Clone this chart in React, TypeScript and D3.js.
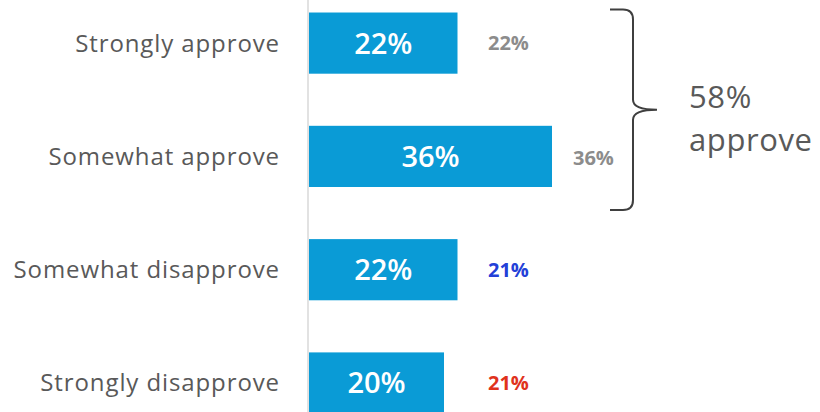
import React from "react";
import * as d3 from "d3";

const categories = ["Strongly approve", "Somewhat approve", "Somewhat disapprove", "Strongly disapprove"];
const values = [22, 36, 22, 20];
const barLabels = ["22%", "36%", "22%", "20%"];
const compareLabels = ["22%", "36%", "21%", "21%"];
const compareColors = ["#8c8c8c", "#8c8c8c", "#2340d8", "#e0321c"];
const bracketLines = ["58%", "approve"];

const W = 820;
const H = 412;
const FONT = "'Open Sans', 'Noto Sans', sans-serif";

export default function App() {
  const x = d3.scaleLinear().domain([0, 36]).range([309, 552]);
  const y = d3.scaleBand<string>().domain(categories).range([-39.6, 465.7]).padding(0.46);
  const bw = y.bandwidth();

  const top = (y(categories[0]) ?? 0) - 3;
  const bot = (y(categories[1]) ?? 0) + bw + 23;
  const mid = (top + bot) / 2;
  const bx = 633;
  const r = 10;
  const bracket = [
    `M ${bx - 23} ${top}`,
    `L ${bx - r} ${top}`,
    `Q ${bx} ${top} ${bx} ${top + r}`,
    `L ${bx} ${mid - r}`,
    `Q ${bx} ${mid} ${bx + 24} ${mid}`,
    `Q ${bx} ${mid} ${bx} ${mid + r}`,
    `L ${bx} ${bot - r}`,
    `Q ${bx} ${bot} ${bx - r} ${bot}`,
    `L ${bx - 23} ${bot}`,
  ].join(" ");

  return (
    <svg width={W} height={H} style={{ position: "absolute", left: 0, top: 0, display: "block", background: "#fff" }}>
      <line x1={x(0) - 1} x2={x(0) - 1} y1={0} y2={H} stroke="#d9d9d9" strokeWidth={1.5} />
      {categories.map((c, i) => {
        const yc = (y(c) ?? 0) + bw / 2;
        return (
          <g key={c}>
            <text
              x={280}
              y={yc}
              dy="0.35em"
              textAnchor="end"
              fontFamily={FONT}
              fontSize={24}
              letterSpacing={0.9}
              fill="#595959"
            >
              {c}
            </text>
            <rect x={x(0)} y={y(c)} width={x(values[i]) - x(0)} height={bw} fill="#0a9bd6" />
            <text
              x={(x(0) + x(values[i])) / 2}
              y={yc}
              dy="0.36em"
              textAnchor="middle"
              fontFamily={FONT}
              fontSize={29}
              fontWeight={600}
              fill="#ffffff"
            >
              {barLabels[i]}
            </text>
            <text
              x={i === 1 ? 573 : 488}
              y={yc + (i === 1 ? 2 : 0)}
              dy="0.35em"
              fontFamily={FONT}
              fontSize={20}
              fontWeight={700}
              fill={compareColors[i]}
            >
              {compareLabels[i]}
            </text>
          </g>
        );
      })}
      <path d={bracket} fill="none" stroke="#3f3f3f" strokeWidth={2} />
      {bracketLines.map((t, i) => (
        <text key={t} x={689} y={108 + i * 43} fontFamily={FONT} fontSize={31} letterSpacing={0.6} fill="#595959">
          {t}
        </text>
      ))}
    </svg>
  );
}
